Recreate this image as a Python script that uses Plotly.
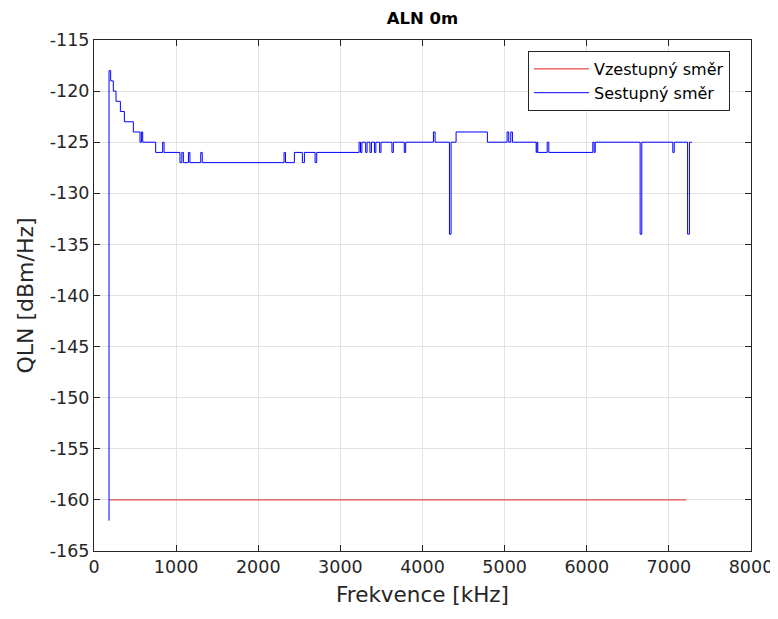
import plotly.graph_objects as go

# Downstream (Sestupný směr) QLN, step breakpoints: frequency [kHz] where a level starts
down_freq = [178, 183, 203, 235, 268, 321, 370, 479, 560, 577, 593, 751, 836, 853,
             1047, 1070, 1088, 1150, 1168, 1300, 1318, 2314, 2332, 2440, 2537, 2562,
             2692, 2712, 3228, 3245, 3262, 3308, 3325, 3360, 3378, 3415, 3432, 3478,
             3495, 3628, 3645, 3778, 3795, 4133, 4153, 4328, 4348, 4409, 4790, 5030,
             5050, 5075, 5095, 5384, 5394, 5404, 5518, 5538, 6074, 6090, 6103, 6650,
             6670, 7048, 7065, 7228, 7250, 7280]
down_qln = [-162, -118, -119, -120, -121, -122, -123, -124, -125, -124, -125, -126, -125, -126,
            -127, -126, -127, -126, -127, -126, -127, -126, -127, -126, -127, -126,
            -127, -126, -125, -126, -125, -126, -125, -126, -125, -126, -125, -126,
            -125, -126, -125, -126, -125, -124, -125, -134, -125, -124, -125, -124,
            -125, -124, -125, -126, -125, -126, -125, -126, -125, -126, -125, -134,
            -125, -126, -125, -134, -125, -125]

# Upstream (Vzestupný směr) QLN
up_freq = [183, 7210]
up_qln = [-160, -160]

x_ticks = [0, 1000, 2000, 3000, 4000, 5000, 6000, 7000, 8000]
y_ticks = [-165, -160, -155, -150, -145, -140, -135, -130, -125, -120, -115]
y_tick_text = ["-165", "-160", "-155", "-150", "-145", "-140", "-135", "-130", "-125", "-120", "-115"]

fig = go.Figure()
fig.add_trace(go.Scatter(x=up_freq, y=up_qln, mode="lines", name="Vzestupný směr",
                         line=dict(color="#e52222", width=1)))
fig.add_trace(go.Scatter(x=down_freq, y=down_qln, mode="lines", name="Sestupný směr",
                         line=dict(color="#0000ff", width=1, shape="hv")))

axis_common = dict(showline=True, linecolor="#262626", linewidth=1, mirror="ticks",
                   ticks="inside", ticklen=6, tickcolor="#262626",
                   showgrid=True, gridcolor="#e3e3e3", gridwidth=1, zeroline=False,
                   tickfont=dict(family="DejaVu Sans", size=17.5, color="#262626"))

fig.update_xaxes(range=[0, 8000], tickvals=x_ticks, ticktext=[str(v) for v in x_ticks],
                 title=dict(text="Frekvence [kHz]", standoff=10,
                            font=dict(family="DejaVu Sans", size=21.5, color="#262626")),
                 **axis_common)
fig.update_yaxes(range=[-165, -115], tickvals=y_ticks, ticktext=y_tick_text,
                 title=dict(text="QLN [dBm/Hz]", standoff=10,
                            font=dict(family="DejaVu Sans", size=22, color="#262626")),
                 **axis_common)

fig.update_layout(
    width=778, height=619,
    margin=dict(l=86, r=35, t=32, b=76),
    paper_bgcolor="white", plot_bgcolor="white",
    title=dict(text="<b>ALN 0m</b>", x=(86 + 743) / 2 / 778, xanchor="center",
               y=1 - 10 / 619, yanchor="middle",
               font=dict(family="DejaVu Sans", size=16.5, color="black")),
    legend=dict(x=0.968, xanchor="right", y=0.9785, yanchor="top",
                bgcolor="white", bordercolor="#262626", borderwidth=1,
                font=dict(family="DejaVu Sans", size=16, color="black"),
                itemwidth=55, tracegroupgap=0),
    showlegend=True,
)

fig.write_html("out.html")
